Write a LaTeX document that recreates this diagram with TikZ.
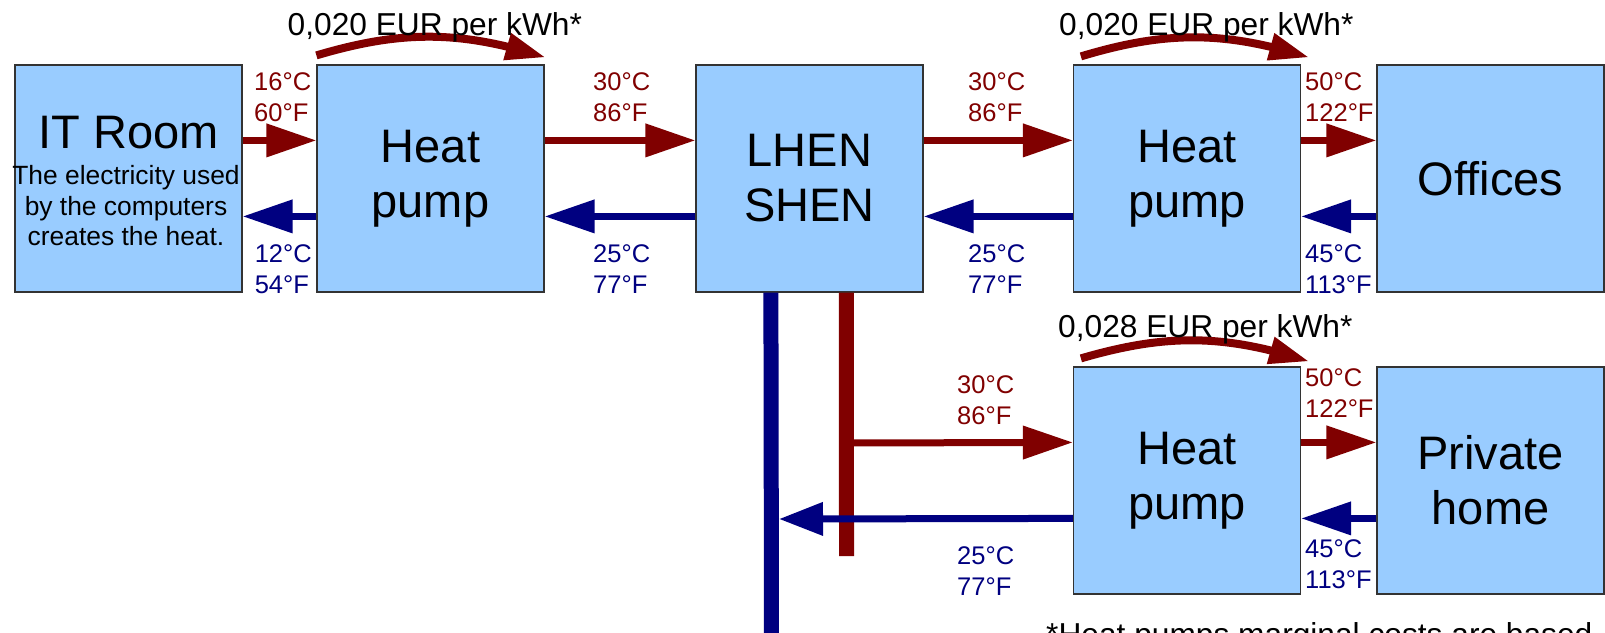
\documentclass[tikz,border=0pt]{standalone}
\usepackage{fontspec}
\setmainfont{Liberation Sans}
\usetikzlibrary{arrows.meta,bending,calc}
\definecolor{boxfill}{RGB}{153,204,255}
\definecolor{hot}{RGB}{128,0,0}
\definecolor{cold}{RGB}{0,0,128}
\begin{document}
\begin{tikzpicture}[x=1pt,y=1pt,
  unit/.style={draw=black!80, line width=1.2pt, fill=boxfill, minimum width=227pt, minimum height=227pt, inner sep=0pt, align=center, font=\fontsize{47}{55}\selectfont},
  hotpipe/.style={draw=hot, line width=7pt, -{Triangle[length=50pt,width=32pt]}},
  coldpipe/.style={draw=cold, line width=7pt, -{Triangle[length=50pt,width=32pt]}},
  hottemp/.style={anchor=north west, inner sep=0pt, align=left, text=hot, font=\fontsize{25.5}{31}\selectfont},
  coldtemp/.style={anchor=north west, inner sep=0pt, align=left, text=cold, font=\fontsize{25.5}{31}\selectfont},
  cost/.style={anchor=base west, inner sep=0pt, font=\fontsize{31.7}{38}\selectfont},
  costarc/.style={draw=hot, line width=8pt, -{Triangle[length=40pt,width=26pt]}},
  trunk/.style={line width=15pt}
]
\useasboundingbox (0,0) rectangle (1605,-632);

% boxes
\node[unit] (it)   at (128.5,-178.5) {};
\node[unit] (hp1)  at (430.5,-178.5) {Heat\\pump};
\node[unit] (lhen) at (809.5,-178.5) {LHEN\\SHEN};
\node[unit] (hp2)  at (1187,-178.5) {Heat\\pump};
\node[unit] (off)  at (1490.5,-178.5) {Offices};
\node[unit] (hp3)  at (1187,-480.5) {Heat\\pump};
\node[unit] (home) at (1490.5,-480.5) {Private\\home};

\node[anchor=base, inner sep=0pt, font=\fontsize{47}{55}\selectfont] (ittitle) at (128.5,-148) {IT Room};
\node[anchor=north, inner sep=0pt, align=center, font=\fontsize{26.4}{30.7}\selectfont] (itdesc) at (126,-165) {The electricity used\\by the computers\\creates the heat.};

% trunk lines from LHEN SHEN
\coordinate (bvtop) at ([xshift=75.5pt]lhen.south west);
\coordinate (bvbot) at (771.5,-640);
\coordinate (rvtop) at ([xshift=151pt]lhen.south west);
\coordinate (rvbot) at (846.5,-556);
\coordinate (rvjoin) at (846.5,-443);
\coordinate (bvhit) at (779,-519);
\draw[trunk, cold] (bvtop) -- (bvbot);
\draw[trunk, hot] (rvtop) -- (rvbot);

% row 1 pipes
\draw[hotpipe] ([yshift=-76pt]it.north east) -- ([yshift=-76pt]hp1.north west);
\draw[coldpipe] ([yshift=-152pt]hp1.north west) -- ([yshift=-152pt]it.north east);
\draw[hotpipe] ([yshift=-76pt]hp1.north east) -- ([yshift=-76pt]lhen.north west);
\draw[coldpipe] ([yshift=-152pt]lhen.north west) -- ([yshift=-152pt]hp1.north east);
\draw[hotpipe] ([yshift=-76pt]lhen.north east) -- ([yshift=-76pt]hp2.north west);
\draw[coldpipe] ([yshift=-152pt]hp2.north west) -- ([yshift=-152pt]lhen.north east);
\draw[hotpipe] ([yshift=-76pt]hp2.north east) -- ([yshift=-76pt]off.north west);
\draw[coldpipe] ([yshift=-152pt]off.north west) -- ([yshift=-152pt]hp2.north east);

% row 2 pipes
\draw[hotpipe] (rvjoin) -- ([yshift=-76pt]hp3.north west);
\draw[coldpipe, -{Triangle[length=44pt,width=32pt]}] ([yshift=-152pt]hp3.north west) -- (bvhit);
\draw[hotpipe] ([yshift=-76pt]hp3.north east) -- ([yshift=-76pt]home.north west);
\draw[coldpipe] ([yshift=-152pt]home.north west) -- ([yshift=-152pt]hp3.north east);

% cost arcs
\draw[costarc] ([yshift=9pt]hp1.north west) to[bend left=17] ([xshift=1pt,yshift=7pt]hp1.north east);
\draw[costarc] ([xshift=8pt,yshift=8pt]hp2.north west) to[bend left=17] ([xshift=8pt,yshift=7pt]hp2.north east);
\draw[costarc] ([xshift=8pt,yshift=8pt]hp3.north west) to[bend left=17] ([xshift=8pt,yshift=5pt]hp3.north east);

\node[cost] (c1) at (287.5,-35) {0,020 EUR per kWh*};
\node[cost] (c2) at (1059,-35) {0,020 EUR per kWh*};
\node[cost] (c3) at (1058,-337) {0,028 EUR per kWh*};

% temperatures
\node[hottemp]  (t1r) at (254,-72.4) {16°C\\60°F};
\node[coldtemp] (t1b) at (254.6,-244) {12°C\\54°F};
\node[hottemp]  (t2r) at (593,-72.4) {30°C\\86°F};
\node[coldtemp] (t2b) at (593,-244) {25°C\\77°F};
\node[hottemp]  (t3r) at (968,-72.4) {30°C\\86°F};
\node[coldtemp] (t3b) at (968,-244) {25°C\\77°F};
\node[hottemp]  (t4r) at (1305,-72.4) {50°C\\122°F};
\node[coldtemp] (t4b) at (1305,-244) {45°C\\113°F};
\node[hottemp]  (t5r) at (957,-375.7) {30°C\\86°F};
\node[coldtemp] (t5b) at (957,-546.7) {25°C\\77°F};
\node[hottemp]  (t6r) at (1305,-368.5) {50°C\\122°F};
\node[coldtemp] (t6b) at (1305,-539.7) {45°C\\113°F};

% footnote (cut by the page edge)
\node[cost] (note) at (1046,-645) {*Heat pumps marginal costs are based};
\end{tikzpicture}
\end{document}
